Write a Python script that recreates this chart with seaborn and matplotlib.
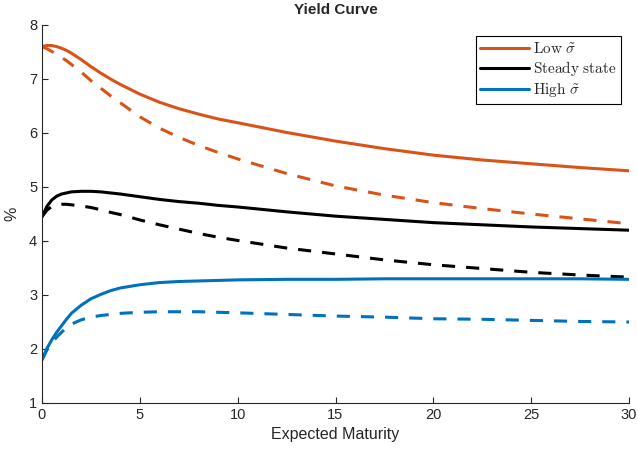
import matplotlib.pyplot as plt
import seaborn as sns
import pandas as pd

# Dados (rendimento em %)
maturity = [0, 0.25, 0.5, 0.75, 1, 1.25, 1.5, 2, 2.5, 3, 3.5, 4, 5, 6, 7, 8, 9, 10,
            12.5, 15, 17.5, 20, 22.5, 25, 27.5, 30]

low_solid = [7.60, 7.62, 7.62, 7.60, 7.57, 7.53, 7.48, 7.36, 7.23, 7.11, 7.00, 6.90,
             6.72, 6.57, 6.45, 6.35, 6.26, 6.19, 6.01, 5.85, 5.71, 5.59, 5.50, 5.43,
             5.36, 5.30]
low_dashed = [7.60, 7.56, 7.51, 7.46, 7.40, 7.34, 7.27, 7.13, 6.97, 6.83, 6.69, 6.56,
              6.30, 6.09, 5.92, 5.77, 5.64, 5.52, 5.25, 5.02, 4.85, 4.71, 4.60, 4.50,
              4.41, 4.32]
steady_solid = [4.45, 4.64, 4.76, 4.83, 4.87, 4.89, 4.91, 4.92, 4.92, 4.91, 4.89, 4.87,
                4.82, 4.77, 4.73, 4.70, 4.66, 4.63, 4.54, 4.46, 4.40, 4.34, 4.30, 4.26,
                4.23, 4.20]
steady_dashed = [4.45, 4.57, 4.64, 4.67, 4.68, 4.68, 4.67, 4.65, 4.62, 4.58, 4.53, 4.49,
                 4.39, 4.30, 4.22, 4.14, 4.07, 4.01, 3.87, 3.76, 3.65, 3.56, 3.49, 3.42,
                 3.37, 3.33]
high_solid = [1.80, 2.01, 2.17, 2.31, 2.43, 2.55, 2.66, 2.81, 2.93, 3.01, 3.08, 3.13,
              3.19, 3.23, 3.25, 3.26, 3.27, 3.28, 3.29, 3.29, 3.30, 3.30, 3.30, 3.30,
              3.30, 3.29]
high_dashed = [1.80, 1.98, 2.11, 2.22, 2.31, 2.39, 2.46, 2.54, 2.59, 2.62, 2.64, 2.66,
               2.68, 2.69, 2.69, 2.69, 2.68, 2.67, 2.64, 2.61, 2.59, 2.56, 2.55, 2.53,
               2.51, 2.50]

labels = [r'$\mathrm{Low}\ \tilde{\sigma}$', r'$\mathrm{Steady\ state}$',
          r'$\mathrm{High}\ \tilde{\sigma}$']
colors = ['#D95319', '#000000', '#0072BD']

sns.set_style("ticks")
plt.rcParams['font.family'] = ['Liberation Sans', 'DejaVu Sans']
plt.rcParams['mathtext.fontset'] = 'cm'

fig = plt.figure(figsize=(6.38, 4.58), dpi=100)
ax = fig.add_axes([42 / 638, 55 / 458, 587 / 638, 378 / 458])

series = [(low_solid, low_dashed), (steady_solid, steady_dashed), (high_solid, high_dashed)]
for (solid, dashed), label, color in zip(series, labels, colors):
    df = pd.DataFrame({'maturity': maturity, 'solid': solid, 'dashed': dashed})
    sns.lineplot(data=df, x='maturity', y='solid', color=color, linewidth=2.2,
                 label=label, ax=ax)
    sns.lineplot(data=df, x='maturity', y='dashed', color=color, linewidth=2.2,
                 ax=ax).lines[-1].set_dashes((4.3, 3.6))

ax.set_xlim(0, 30)
ax.set_ylim(1, 8)
ax.set_xticks([0, 5, 10, 15, 20, 25, 30])
ax.set_yticks([1, 2, 3, 4, 5, 6, 7, 8])
ax.tick_params(direction='in', length=4, labelsize=10.5, colors='#262626', width=0.8)
for s in ['top', 'right']:
    ax.spines[s].set_visible(False)
for s in ['left', 'bottom']:
    ax.spines[s].set_color('#262626')
    ax.spines[s].set_linewidth(0.8)

ax.set_title('Yield Curve', fontsize=11, fontweight='bold', pad=8)
ax.set_xlabel('Expected Maturity', fontsize=11.5, color='#262626')
ax.set_ylabel('%', fontsize=11.5, color='#262626', labelpad=7)

leg = ax.legend(loc='upper right', bbox_to_anchor=(1.0, 0.99), fancybox=False,
                edgecolor='black', framealpha=1, handlelength=3.2, handletextpad=0.25,
                borderpad=0.3, labelspacing=0.2, fontsize=11)
leg.get_frame().set_linewidth(0.8)

fig.savefig('out.png', dpi=100)
